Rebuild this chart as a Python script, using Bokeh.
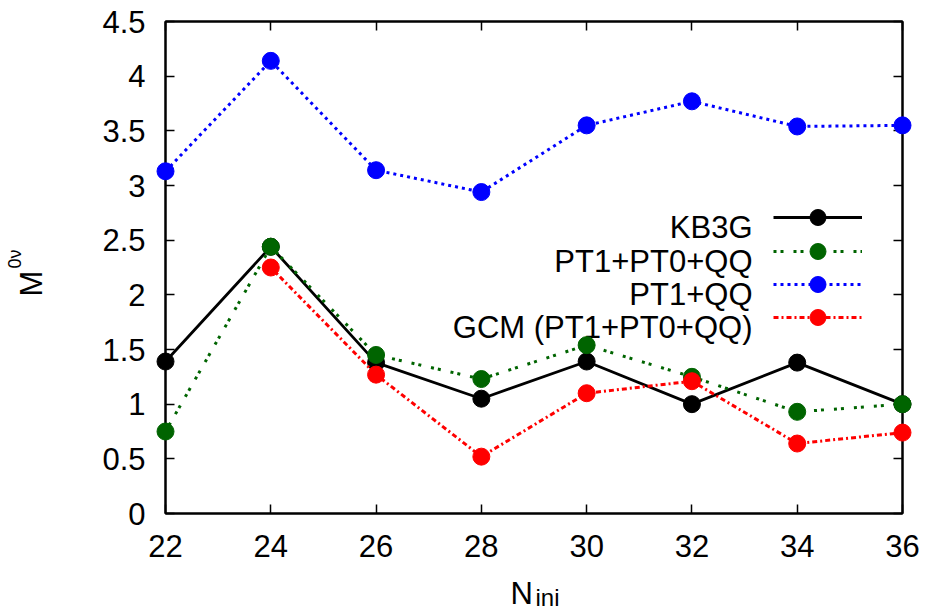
import math

from bokeh.core.properties import value
from bokeh.embed import file_html
from bokeh.models import FixedTicker, Label, Legend, LegendItem, LinearAxis, Range1d
from bokeh.plotting import figure
from bokeh.resources import INLINE

# ---- data ---------------------------------------------------------------
n_ini = [22, 24, 26, 28, 30, 32, 34, 36]
kb3g = [1.39, 2.44, 1.38, 1.05, 1.39, 1.00, 1.38, 1.00]
pt1_pt0_qq = [0.75, 2.44, 1.45, 1.23, 1.54, 1.25, 0.93, 1.00]
pt1_qq = [3.13, 4.14, 3.14, 2.94, 3.55, 3.77, 3.54, 3.55]
gcm_n_ini = [24, 26, 28, 30, 32, 34, 36]
gcm = [2.25, 1.27, 0.52, 1.10, 1.21, 0.64, 0.74]

series_names = ["KB3G", "PT1+PT0+QQ", "PT1+QQ", "GCM (PT1+PT0+QQ)"]

x_ticks = [22, 24, 26, 28, 30, 32, 34, 36]
x_tick_labels = ["22", "24", "26", "28", "30", "32", "34", "36"]
y_ticks = [0, 0.5, 1, 1.5, 2, 2.5, 3, 3.5, 4, 4.5]
y_tick_labels = ["0", "0.5", "1", "1.5", "2", "2.5", "3", "3.5", "4", "4.5"]

X_MIN, X_MAX = 22, 36
Y_MIN, Y_MAX = 0, 4.5

# ---- layout constants (pixels on the canvas) ------------------------------
W, H = 927, 613
FRAME_L, FRAME_R, FRAME_T, FRAME_B = 165, 902, 21, 513
FONT = "Liberation Sans"
FS = "31px"


def sx(px):
    """Canvas x pixel -> screen units relative to the plot frame."""
    return px - FRAME_L


def sy(py):
    """Canvas y pixel -> screen units relative to the plot frame (upwards)."""
    return FRAME_B - py


def dx(px):
    """Canvas x pixel -> data x (for titles placed outside the frame)."""
    return X_MIN + (px - FRAME_L) * (X_MAX - X_MIN) / (FRAME_R - FRAME_L)


def dy(py):
    """Canvas y pixel -> data y (for titles placed outside the frame)."""
    return Y_MIN + (FRAME_B - py) * (Y_MAX - Y_MIN) / (FRAME_B - FRAME_T)


p = figure(
    width=W,
    height=H,
    output_backend="svg",
    toolbar_location=None,
    x_range=Range1d(X_MIN, X_MAX),
    y_range=Range1d(Y_MIN, Y_MAX),
    min_border_left=FRAME_L,
    min_border_right=W - FRAME_R,
    min_border_top=FRAME_T,
    min_border_bottom=H - FRAME_B,
    background_fill_color="white",
    border_fill_color="white",
)
p.grid.visible = False
p.outline_line_color = "black"
p.outline_line_width = 2


def style_axis(ax, ticks, labels, show_labels, standoff):
    ax.ticker = FixedTicker(ticks=ticks)
    ax.major_tick_in = 9
    ax.major_tick_out = 0
    ax.minor_tick_in = 0
    ax.minor_tick_out = 0
    ax.axis_line_width = 2
    ax.axis_line_color = "black"
    ax.major_tick_line_width = 1.5
    ax.major_tick_line_color = "black"
    ax.major_label_standoff = standoff
    if show_labels:
        ax.major_label_overrides = {t: l for t, l in zip(ticks, labels)}
        ax.major_label_text_font = FONT
        ax.major_label_text_font_size = FS
        ax.major_label_text_color = "black"
    else:
        ax.major_label_text_font_size = "0px"
        ax.major_label_text_alpha = 0


style_axis(p.xaxis[0], x_ticks, x_tick_labels, True, 21)
style_axis(p.yaxis[0], y_ticks, y_tick_labels, True, 20)

top_axis = LinearAxis()
style_axis(top_axis, x_ticks, x_tick_labels, False, 0)
p.add_layout(top_axis, "above")
right_axis = LinearAxis()
style_axis(right_axis, y_ticks, y_tick_labels, False, 0)
p.add_layout(right_axis, "right")

# ---- series --------------------------------------------------------------
series = [
    (series_names[0], n_ini, kb3g, "#000000", "solid", 2.8),
    (series_names[1], n_ini, pt1_pt0_qq, "#006400", "3 4 3 10", 3),
    (series_names[2], n_ini, pt1_qq, "#0000ff", "3 4", 3),
    (series_names[3], gcm_n_ini, gcm, "#ff0000", "5 3 2 3", 3),
]

legend_rows = [217, 250.5, 284, 317]
LEG_GLYPH_L, LEG_GLYPH_R, LEG_TEXT_R = 773, 862, 752

for (name, xs, ys, color, dash, lw), row in zip(series, legend_rows):
    ln = p.line(xs, ys, line_color=color, line_width=lw, line_dash=dash, level="overlay")
    dots = p.scatter(xs, ys, size=17, fill_color=color, line_color=color, level="overlay")

    leg = Legend(
        items=[LegendItem(label=" ", renderers=[ln, dots])],
        location=(sx(LEG_GLYPH_L), sy(row + 20)),
        glyph_width=LEG_GLYPH_R - LEG_GLYPH_L,
        glyph_height=40,
        label_height=40,
        label_width=0,
        label_standoff=0,
        label_text_font_size="1px",
        padding=0,
        margin=0,
        spacing=0,
        border_line_color=None,
        background_fill_alpha=0,
    )
    p.add_layout(leg)

    p.add_layout(Label(
        x=sx(LEG_TEXT_R), y=sy(row + 10), x_units="screen", y_units="screen",
        text=name, text_align="right", text_baseline="alphabetic",
        text_font=FONT, text_font_size=FS, text_color="black",
    ))

# ---- axis titles (text glyphs on the overlay level, outside the frame) ----
def title_text(px, py, text, size, angle=0.0):
    p.text(
        x=[dx(px)], y=[dy(py)], text=[text], angle=angle,
        text_font=value(FONT), text_font_size=value(f"{size}px"),
        text_color=value("black"), text_align=value("left"),
        text_baseline=value("alphabetic"), level="overlay",
    )


title_text(31, 296, "M", 31, math.pi / 2)
title_text(14, 268, "0ν", 18, math.pi / 2)
title_text(510, 593, "N", 31)
title_text(535, 597, "ini", 24)

open("out.html", "w").write(file_html(p, INLINE))
